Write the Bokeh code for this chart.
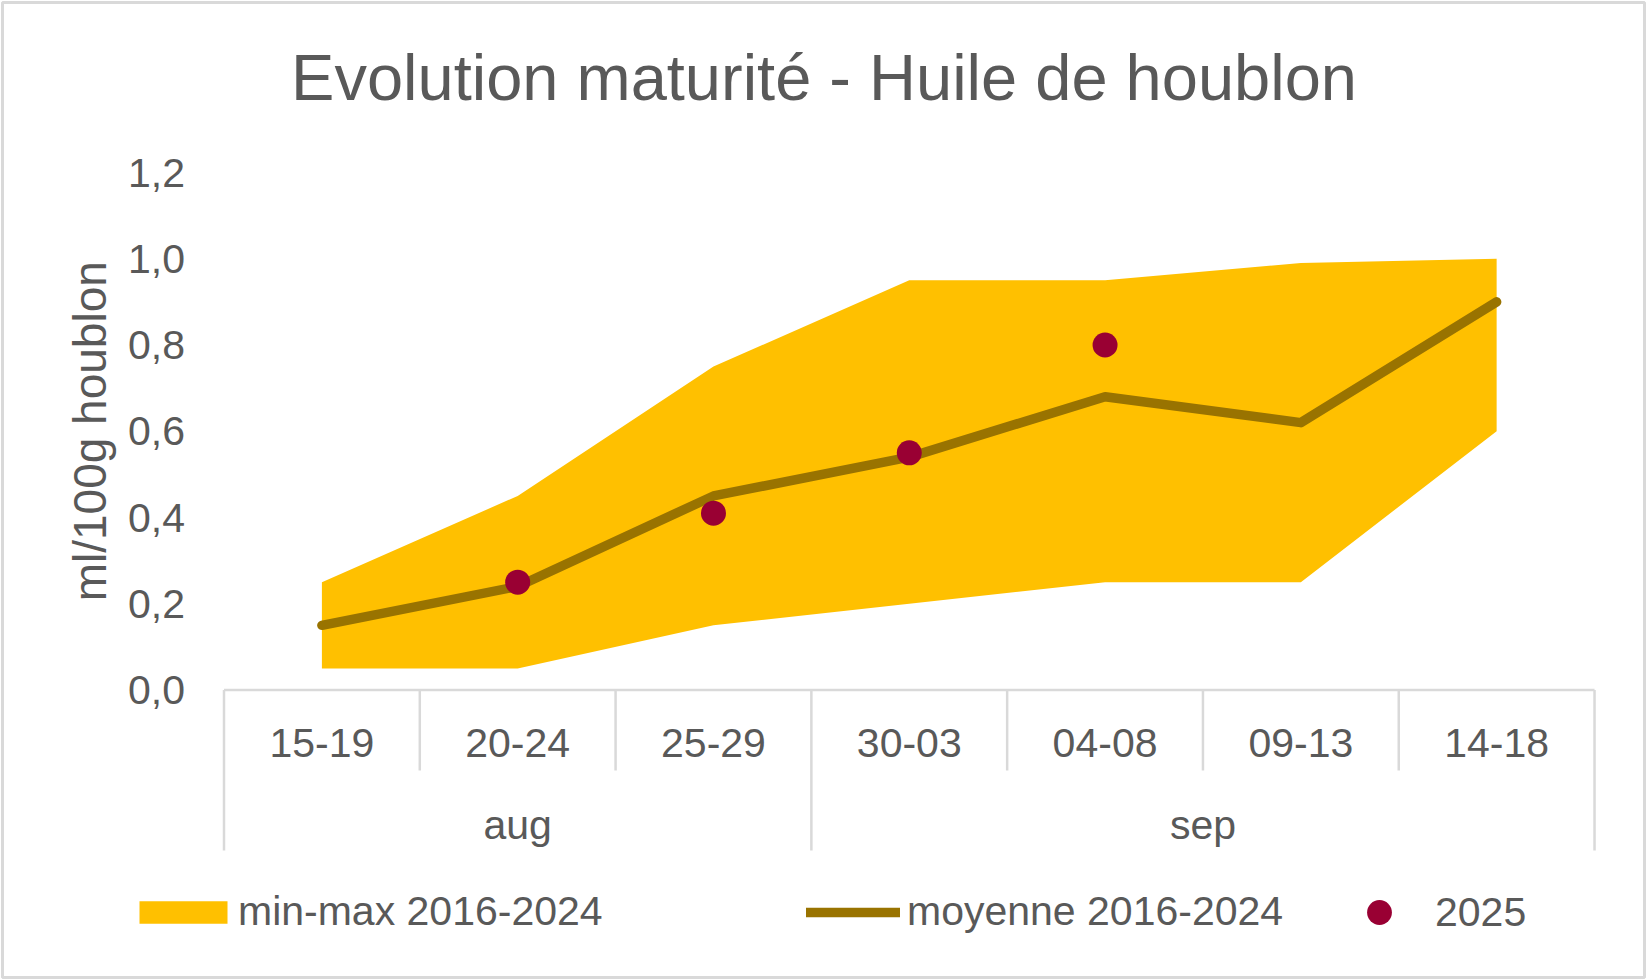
from math import pi
from bokeh.plotting import figure
from bokeh.models import (Range1d, FixedTicker, CustomJSTickFormatter, Label,
                          Legend, LegendItem)
from bokeh.core.properties import value
from bokeh.embed import file_html
from bokeh.resources import INLINE

# ---------------- data ----------------
weeks = ["15-19", "20-24", "25-29", "30-03", "04-08", "09-13", "14-18"]
months = ["aug", "aug", "aug", "sep", "sep", "sep", "sep"]
minmax_low = [0.05, 0.05, 0.15, 0.20, 0.25, 0.25, 0.60]
minmax_high = [0.25, 0.45, 0.75, 0.95, 0.95, 0.99, 1.00]
moyenne = [0.15, 0.24, 0.45, 0.54, 0.68, 0.62, 0.90]
y2025 = [None, 0.25, 0.41, 0.55, 0.80, None, None]
y_ticks = [0.0, 0.2, 0.4, 0.6, 0.8, 1.0, 1.2]

FONT = "Liberation Sans"
TXT = "#595959"
GRID = "#D9D9D9"

# ---------------- layout (pixels) ----------------
W, H = 1646, 979
MB = 2                       # border around the frame
PX0, UX = 223.5, 195.79      # pixel of x=0, pixels per category
PY0, UY = 689.5, 431.25      # pixel of y=0, pixels per unit


def dx(px):
    return (px - PX0) / UX


def dy(py):
    return (PY0 - py) / UY


n = len(weeks)
xs = [i + 0.5 for i in range(n)]
x25 = [xs[i] for i, v in enumerate(y2025) if v is not None]
v25 = [v for v in y2025 if v is not None]

p = figure(width=W, height=H,
           x_range=Range1d(dx(MB), dx(W - MB)),
           y_range=Range1d(dy(H - MB), dy(MB)),
           x_axis_location=None, toolbar_location=None, output_backend="svg",
           min_border_left=MB, min_border_right=MB, min_border_top=MB,
           min_border_bottom=MB)
p.outline_line_color = GRID
p.outline_line_width = 3
p.grid.visible = False
p.background_fill_color = "white"
p.border_fill_color = "white"

# title
p.add_layout(Label(x=dx(823.5), y=dy(77),
                   text="Evolution maturité - Huile de houblon",
                   text_align="center", text_baseline="alphabetic",
                   text_font=FONT, text_font_size="65px", text_color=TXT))

# y axis (fixed at x = 0)
ax = p.yaxis[0]
ax.fixed_location = 0
ax.ticker = FixedTicker(ticks=y_ticks)
ax.formatter = CustomJSTickFormatter(code="return tick.toFixed(1).replace('.', ',');")
ax.axis_line_color = None
ax.major_tick_line_color = None
ax.minor_tick_line_color = None
ax.major_tick_out = 0
ax.major_tick_in = 0
ax.major_label_standoff = 39
ax.major_label_text_font = FONT
ax.major_label_text_font_size = "41px"
ax.major_label_text_color = TXT

p.add_layout(Label(x=dx(89.5), y=0.6, text="ml/100g houblon", angle=pi / 2,
                   text_align="center", text_baseline="middle",
                   text_font=FONT, text_font_size="46px", text_color=TXT))

# data glyphs
band = p.varea(x=xs, y1=minmax_low, y2=minmax_high, fill_color="#FFC000")
ln = p.line(xs, moyenne, line_width=9.5, line_color="#997300",
            line_cap="round", line_join="round")
dots = p.scatter(x25, v25, size=25, fill_color="#990033", line_color=None)

# category axis table (drawn below y = 0)
p.segment(x0=[0], y0=[0], x1=[n], y1=[0], line_color=GRID, line_width=2.5)
bounds = [0] + [i for i in range(1, n) if months[i] != months[i - 1]] + [n]
inner = [i for i in range(1, n) if i not in bounds]
p.segment(x0=inner, y0=[0] * len(inner), x1=inner, y1=[dy(770)] * len(inner),
          line_color=GRID, line_width=2.5)
p.segment(x0=bounds, y0=[0] * len(bounds), x1=bounds, y1=[dy(850)] * len(bounds),
          line_color=GRID, line_width=2.5)
p.text(x=xs, y=[dy(742)] * n, text=weeks, text_align="center",
       text_baseline="alphabetic", text_font=value(FONT),
       text_font_size="41px", text_color=TXT)
groups = []
for m in months:
    if m not in groups:
        groups.append(m)
gx = [sum(xs[i] for i in range(n) if months[i] == g) / months.count(g) for g in groups]
p.text(x=gx, y=[dy(824)] * len(groups), text=groups, text_align="center",
       text_baseline="alphabetic", text_font=value(FONT),
       text_font_size="41px", text_color=TXT)


# legends (one per entry, placed like the original)
def mk_legend(label, rend, left_px, bottom_px, gw, gh, standoff):
    lg = Legend(items=[LegendItem(label=label, renderers=[rend])],
                location=(int(round(left_px - MB)), int(round((H - MB) - bottom_px))),
                orientation="horizontal", padding=0, margin=0,
                spacing=0, border_line_color=None, background_fill_alpha=0,
                label_text_font=FONT, label_text_font_size="41px",
                label_text_color=TXT, label_standoff=standoff,
                glyph_width=gw, glyph_height=gh)
    p.add_layout(lg)


mk_legend("min-max 2016-2024", band, 128, 935, 110, 28, 0)
mk_legend("moyenne 2016-2024", ln, 806, 935, 94, 22, 7)
mk_legend("2025", dots, 1335, 943, 88, 62, 12)

open("out.html", "w").write(file_html(p, INLINE))
